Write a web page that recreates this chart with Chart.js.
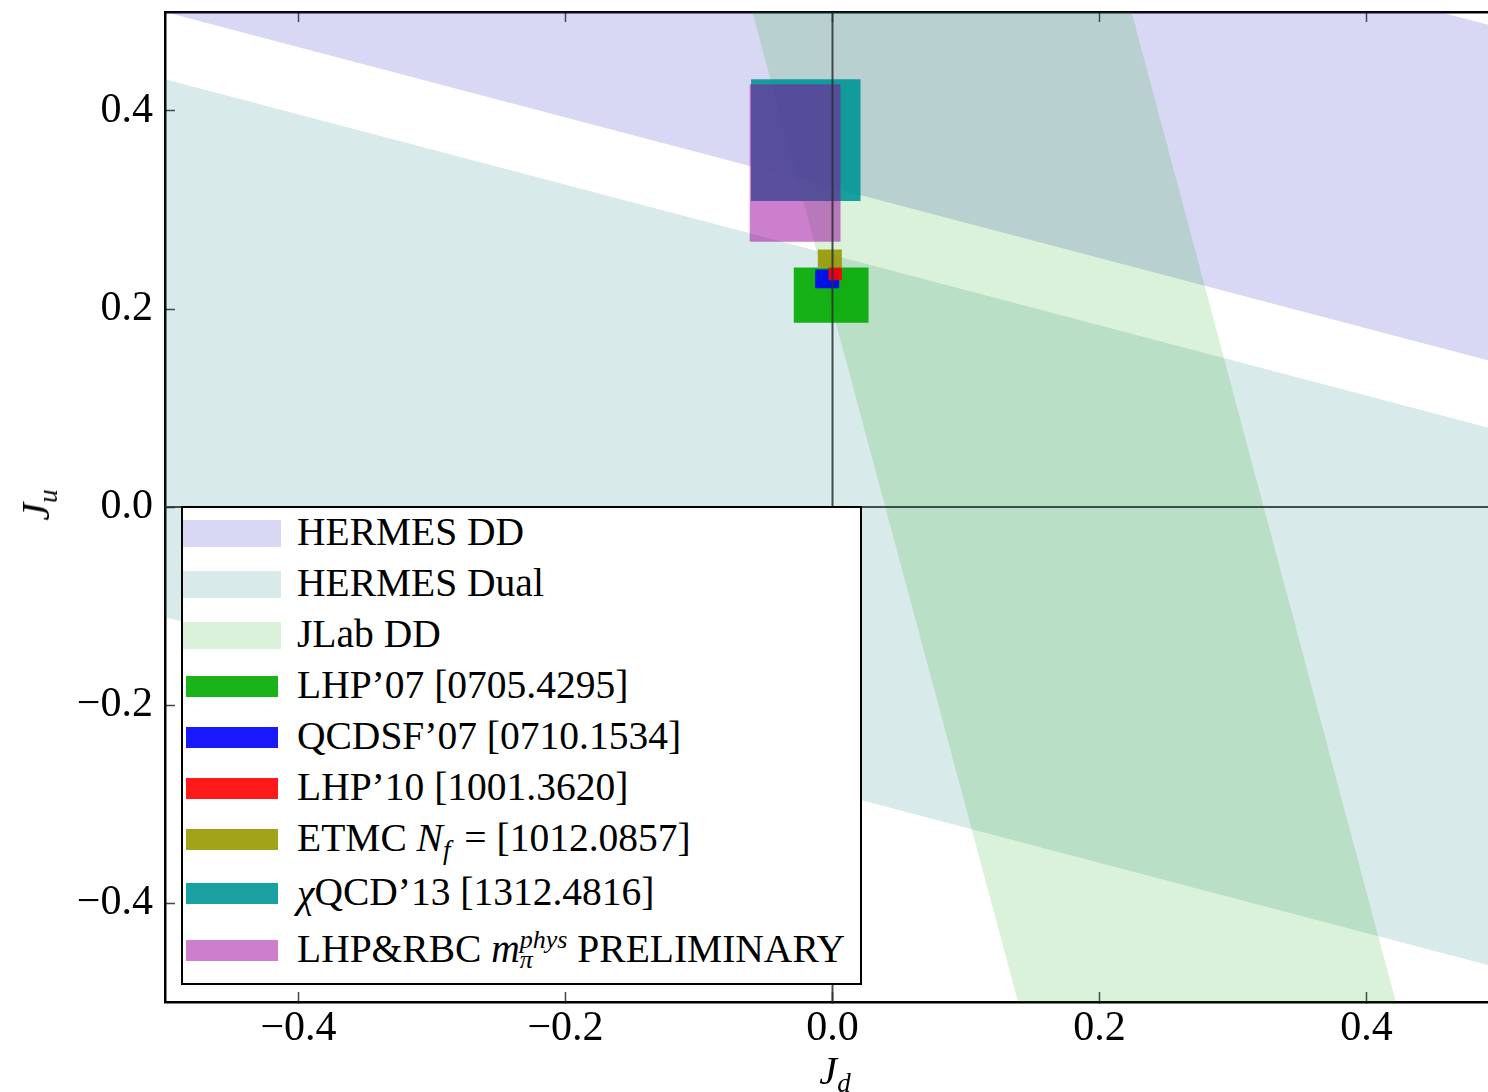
<!DOCTYPE html>
<html>
<head>
<meta charset="utf-8">
<script src="https://cdn.jsdelivr.net/npm/chart.js@4.4.1/dist/chart.umd.min.js"></script>
<style>
  html, body { margin: 0; padding: 0; background: #fff; overflow: hidden; }
  #wrap { position: relative; width: 1500px; height: 1092px; font-family: "Liberation Serif", serif; color: #000; }
  #chart { position: absolute; left: 0; top: 0; }
  #legend { position: absolute; left: 181px; top: 506px; width: 677px; height: 475px;
            border: 2px solid #000; background: #fff; }
  .sw { position: absolute; }
  .lbl { position: absolute; left: 114px; font-size: 39.5px; line-height: 1; white-space: nowrap;
         transform: translateY(-50%); }
  .sub { font-size: 27px; position: relative; top: 8px; line-height: 0; margin-right: 4px; }
  .stack { display: inline-block; position: relative; font-size: 26px; line-height: 1; }
  .stack .up { position: relative; top: -14px; }
  .stack .dn { position: absolute; left: 0; top: 6px; }
  .chi { position: relative; top: 2px; }
  .title { position: absolute; font-size: 40px; line-height: 1; white-space: nowrap; }
  .title .sub { margin-right: 0; }
</style>
</head>
<body>
<div id="wrap">
  <canvas id="chart" width="1500" height="1092"></canvas>
  <div id="legend"></div>
  <div class="title" id="xtitle"><i>J</i><i class="sub">d</i></div>
  <div class="title" id="ytitle"><i>J</i><i class="sub">u</i></div>
</div>
<script>
// ---- axes ----
const xTicks = [-0.4, -0.2, 0.0, 0.2, 0.4];
const yTicks = [-0.4, -0.2, 0.0, 0.2, 0.4];

// ---- experimental bands ----
// HERMES bands: J_u of each edge at J_d = -0.5 and J_d = +0.5
const bandJdEnds = [-0.5, 0.5];
const hermesDDLower = [0.500, 0.145];
const hermesDDUpper = [0.839, 0.484];
const hermesDualLower = [-0.111, -0.466];
const hermesDualUpper = [0.432, 0.077];
// JLab band: J_d of each edge at J_u = +0.5 and J_u = -0.5
const jlabJuEnds = [0.5, -0.5];
const jlabLeft = [-0.060, 0.139];
const jlabRight = [0.224, 0.422];

// ---- lattice boxes ----
const boxNames = ["LHP07", "QCDSF07", "LHP10", "ETMC", "chiQCD13", "LHPRBC"];
const boxJdLo = [-0.029, -0.013, -0.003, -0.011, -0.061, -0.062];
const boxJdHi = [0.027, 0.005, 0.007, 0.007, 0.021, 0.006];
const boxJuLo = [0.186, 0.221, 0.229, 0.242, 0.309, 0.268];
const boxJuHi = [0.242, 0.240, 0.242, 0.260, 0.432, 0.427];

// ---- legend ----
const legendLabels = [
  "HERMES DD",
  "HERMES Dual",
  "JLab DD",
  "LHP’07 [0705.4295]",
  "QCDSF’07 [0710.1534]",
  "LHP’10 [1001.3620]",
  "ETMC <i>N</i><i class=\"sub\">f</i> = [1012.0857]",
  "<i class=\"chi\">χ</i>QCD’13 [1312.4816]",
  "LHP&amp;RBC <i>m</i><span class=\"stack\"><i class=\"up\">phys</i><i class=\"dn\">π</i></span> PRELIMINARY"
];

// colours
const bandColors = ["rgba(58,58,200,0.2)", "rgba(0,115,115,0.15)", "rgba(0,170,0,0.15)"];
const boxColors = ["rgba(0,170,0,0.9)", "rgba(0,0,255,0.9)", "rgba(255,0,0,0.9)",
                   "rgba(153,153,0,0.9)", "rgba(0,150,150,0.9)", "rgba(153,0,153,0.5)"];
const boxOrder = [6, 5, 3, 4, 2, 1];

const FONT = "'Liberation Serif', serif";

function bandHermes(lower, upper) {
  return [
    { x: bandJdEnds[0], y: lower[0] },
    { x: bandJdEnds[0], y: upper[0] },
    { x: bandJdEnds[1], y: upper[1] },
    { x: bandJdEnds[1], y: lower[1] }
  ];
}

function bandJLab() {
  // ends on the right-most x so the filler's x-clip keeps the whole band;
  // the extra point sits above the plot and is cut away by the chart area
  return [
    { x: jlabLeft[0], y: jlabJuEnds[0] },
    { x: jlabLeft[1], y: jlabJuEnds[1] },
    { x: jlabRight[1], y: jlabJuEnds[1] },
    { x: jlabRight[0], y: jlabJuEnds[0] },
    { x: jlabRight[1], y: jlabJuEnds[0] + 1 }
  ];
}

function boxPoints(i) {
  return [
    { x: boxJdLo[i], y: boxJuLo[i] },
    { x: boxJdLo[i], y: boxJuHi[i] },
    { x: boxJdHi[i], y: boxJuHi[i] },
    { x: boxJdHi[i], y: boxJuLo[i] }
  ];
}

function shape(data, color, order, label) {
  return {
    label, data, order,
    showLine: true,
    fill: "shape",
    backgroundColor: color,
    borderColor: "transparent",
    borderWidth: 0,
    pointRadius: 0
  };
}

const datasets = [];
datasets.push(shape(bandHermes(hermesDDLower, hermesDDUpper), bandColors[0], 12, "HERMES DD"));
datasets.push(shape(bandHermes(hermesDualLower, hermesDualUpper), bandColors[1], 11, "HERMES Dual"));
datasets.push(shape(bandJLab(), bandColors[2], 10, "JLab DD"));
boxNames.forEach((n, i) => datasets.push(shape(boxPoints(i), boxColors[i], boxOrder[i], n)));

// zero lines
const zeroLine = (data) => ({
  data, order: 0, showLine: true, fill: false,
  borderColor: "rgba(40,50,50,0.85)", borderWidth: 2, pointRadius: 0
});
datasets.push(zeroLine([{ x: 0, y: -0.5 }, { x: 0, y: 0.5 }]));
datasets.push(zeroLine([{ x: -0.5, y: 0 }, { x: 0.5, y: 0 }]));

const fmt = v => (v < 0 ? "\u2212" : "") + Math.abs(v).toFixed(1);

const tickGrid = {
  drawOnChartArea: false,
  drawTicks: true,
  tickLength: -10,
  tickWidth: 1.5,
  tickColor: "#444"
};
const frame = { display: true, color: "#000", width: 2.5 };

new Chart(document.getElementById("chart"), {
  type: "scatter",
  data: { datasets },
  options: {
    responsive: false,
    animation: false,
    events: [],
    layout: { padding: 0 },
    plugins: { legend: { display: false }, tooltip: { enabled: false } },
    scales: {
      x: {
        type: "linear", position: "bottom", min: -0.5, max: 0.5,
        afterBuildTicks: s => { s.ticks = xTicks.map(v => ({ value: v })); },
        afterFit: s => { s.height = 90; s.paddingLeft = 0; s.paddingRight = 0; },
        ticks: { callback: fmt, color: "#000", padding: 12, maxRotation: 0,
                 font: { family: FONT, size: 42 } },
        grid: tickGrid, border: frame
      },
      x2: {
        type: "linear", position: "top", min: -0.5, max: 0.5,
        afterBuildTicks: s => { s.ticks = xTicks.map(v => ({ value: v })); },
        afterFit: s => { s.height = 12; s.paddingLeft = 0; s.paddingRight = 0; },
        ticks: { display: false },
        grid: tickGrid, border: frame
      },
      y: {
        type: "linear", position: "left", min: -0.5, max: 0.5,
        afterBuildTicks: s => { s.ticks = yTicks.map(v => ({ value: v })); },
        afterFit: s => { s.width = 165; s.paddingTop = 0; s.paddingBottom = 0; },
        ticks: { callback: fmt, color: "#000", padding: 22,
                 font: { family: FONT, size: 42 } },
        grid: tickGrid, border: frame
      }
    }
  }
});

// =========================
// LEGEND
// =========================
const legendSwatch = bandColors.concat(boxColors);
const rowCenter = [25, 76, 127, 178, 229, 280, 331, 385, 442];
const legend = document.getElementById("legend");

legendLabels.forEach((txt, i) => {
  const isBand = i < bandColors.length;
  const sw = document.createElement("div");
  sw.className = "sw";
  const h = isBand ? 27 : 21;
  sw.style.left = (isBand ? 0 : 3) + "px";
  sw.style.width = (isBand ? 98 : 92) + "px";
  sw.style.height = h + "px";
  sw.style.top = (rowCenter[i] - h / 2) + "px";
  sw.style.background = legendSwatch[i];
  legend.appendChild(sw);

  const lbl = document.createElement("div");
  lbl.className = "lbl";
  lbl.style.top = rowCenter[i] + "px";
  lbl.innerHTML = txt;
  legend.appendChild(lbl);
});

// axis titles
const xt = document.getElementById("xtitle");
xt.style.left = "835px";
xt.style.top = "1051px";
xt.style.transform = "translateX(-50%)";

const yt = document.getElementById("ytitle");
yt.style.left = "36px";
yt.style.top = "505px";
yt.style.transform = "translate(-50%,-50%) rotate(-90deg)";
</script>
</body>
</html>
